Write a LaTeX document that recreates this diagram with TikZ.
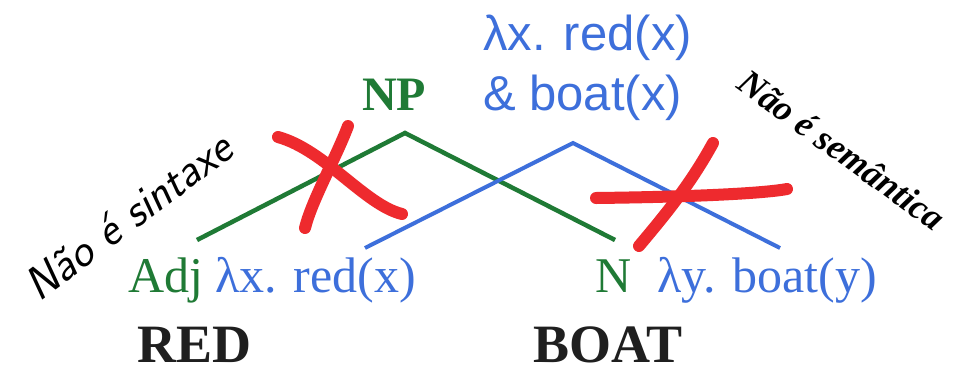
\documentclass[tikz,border=0pt]{standalone}
\usepackage{fontspec}
\setmainfont{Liberation Serif}
\newfontfamily\arialf{Liberation Sans}
\definecolor{synG}{HTML}{1F7A35}
\definecolor{semB}{HTML}{3D6FDB}
\definecolor{xRed}{HTML}{EE2A2E}
\begin{document}
\begin{tikzpicture}[x=1pt,y=-1pt,
  lbl/.style={inner sep=0pt,anchor=base west,font=\fontsize{50}{60}\selectfont},
  syn/.style={lbl,text=synG},
  sem/.style={lbl,text=semB},
  word/.style={inner sep=0pt,anchor=base west,font=\fontsize{54}{64}\selectfont\bfseries,text=black!88},
  synline/.style={draw=synG,line width=4.5pt,line join=miter},
  semline/.style={draw=semB,line width=4pt,line join=miter},
  cross/.style={draw=xRed,line width=12pt,line cap=round},
  note/.style={inner sep=0pt,text=black}]
\useasboundingbox[fill=white] (0,0) rectangle (953,373);
% labels
\node[syn] (adj) at (128,292) {Adj};
\node[sem] (redsem) at (215,292) {λx. red(x)};
\node[syn] (n) at (595,292) {N};
\node[sem] (boatsem) at (657,292) {λy. boat(y)};
\node[word] (red) at (137,362) {RED};
\node[word] (boat) at (533,362) {BOAT};
\node[syn,font=\fontsize{48}{58}\selectfont\bfseries] (np) at (362,110) {NP};
\node[inner sep=0pt,anchor=base west,text=semB,font=\arialf\fontsize{49}{60}\selectfont,align=left] (top1) at (483,50) {λx. red(x)};
\node[inner sep=0pt,anchor=base west,text=semB,font=\arialf\fontsize{49}{60}\selectfont,align=left] (top2) at (483,110) {\& boat(x)};
% connector end points
\coordinate (adjT) at (197,240);
\coordinate (npB) at (405,133);
\coordinate (nT) at (615,240);
\coordinate (redT) at (365,248);
\coordinate (topB) at (573,143);
\coordinate (boatT) at (780,248);
\draw[synline] (adjT) -- (npB) -- (nT);
\draw[semline] (redT) -- (topB) -- (boatT);
% red crosses
\draw[cross] (278,137) .. controls (325,150) and (365,205) .. (402,214);
\draw[cross] (348,126) .. controls (335,160) and (312,200) .. (305,228);
\draw[cross] (596,198) .. controls (680,197) and (760,194) .. (787,189);
\draw[cross] (713,143) .. controls (690,185) and (665,215) .. (639,246);
% notes
\node[note,rotate=37,font=\sffamily\itshape\fontsize{46}{54}\selectfont] (n1) at (128,216) {Não é sintaxe};
\node[note,rotate=-36,font=\itshape\bfseries\fontsize{36}{44}\selectfont] (n2) at (842,150) {Não é semântica};
\end{tikzpicture}
\end{document}
